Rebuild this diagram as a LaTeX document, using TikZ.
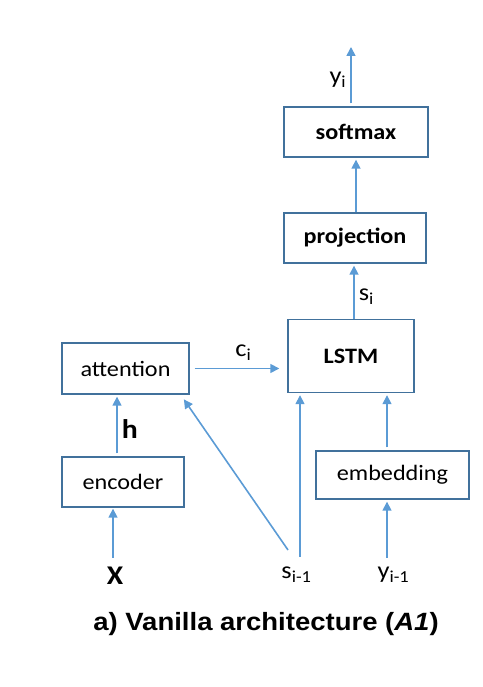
\documentclass[tikz,border=0pt]{standalone}
\usepackage{fontspec}
\setmainfont{Carlito}[FakeStretch=1.1]
\newfontfamily\capfont{Liberation Sans}[FakeStretch=1.1]
\usepackage{xcolor}
\usetikzlibrary{arrows.meta}
\definecolor{boxblue}{RGB}{65,113,156}
\definecolor{lineblue}{RGB}{91,155,213}
\tikzset{
  block/.style={draw=boxblue,line width=1.4pt,fill=white,inner sep=0pt,
    font=\fontsize{22}{26}\selectfont},
  flow/.style={lineblue,line width=1.6pt,-{Triangle[length=9pt,width=9pt]},
    shorten <=3pt,shorten >=2pt},
  lbl/.style={inner sep=0pt,text=black,font=\fontsize{24}{28}\selectfont}
}

\begin{document}
\begin{tikzpicture}[x=1pt,y=1pt]
\useasboundingbox (0,0) rectangle (482,687);
% boxes
\node[block,minimum width=127,minimum height=51] (att) at (125.5,318.5) {attention};
\node[block,minimum width=122,minimum height=50] (enc) at (123,205) {encoder};
\node[block,minimum width=126,minimum height=73,font=\fontsize{22}{26}\selectfont\bfseries] (lstm) at (351,331) {LSTM};
\node[block,minimum width=153,minimum height=48] (emb) at (392.5,212) {embedding};
\node[block,minimum width=142,minimum height=50,font=\fontsize{22}{26}\selectfont\bfseries] (proj) at (355,449) {projection};
\node[block,minimum width=144,minimum height=50,font=\fontsize{22}{26}\selectfont\bfseries] (soft) at (356,555) {softmax};
% inputs and output
\node[lbl,anchor=base,font=\fontsize{27}{30}\selectfont\bfseries] (x) at (115,102) {X};
\node[lbl,anchor=base] (sprev) at (296.5,108) {s\textsubscript{i-1}};
\node[lbl,anchor=base] (yprev) at (393.5,108) {y\textsubscript{i-1}};
\coordinate (out) at (351,640);
% connectors
\draw[flow,shorten <=0pt,shorten >=1pt] ([xshift=-2pt,yshift=27pt]x.base) -- ([xshift=-2pt]x.base |- enc.south);
\draw[flow] ([xshift=-6pt]enc.north) -- ([xshift=-6pt]enc.north |- att.south)
  node[lbl,pos=0.45,right=4pt,font=\fontsize{27}{30}\selectfont\bfseries] (h) {h};
\draw[flow,shorten <=5pt,shorten >=8pt] (att.east) -- (att.east -| lstm.west)
  node[lbl,pos=0.55,above=7pt] (c) {c\textsubscript{i}};
\draw[flow,shorten <=0pt] ([xshift=-8.5pt,yshift=29pt]sprev.base) -- ([xshift=-7pt,yshift=-3pt]att.south east);
\draw[flow,shorten <=0pt] ([xshift=3.5pt,yshift=22pt]sprev.base) -- ([xshift=3.5pt]sprev.base |- lstm.south);
\draw[flow,shorten <=0pt] ([xshift=-6.5pt,yshift=21pt]yprev.base) -- ([xshift=-6.5pt]yprev.base |- emb.south);
\draw[flow] ([xshift=-5.5pt]emb.north) -- ([xshift=-5.5pt]emb.north |- lstm.south);
\draw[flow,shorten <=0pt] ([xshift=3pt]lstm.north) -- ([xshift=3pt]lstm.north |- proj.south)
  node[lbl,pos=0.4,right=4pt] (s) {s\textsubscript{i}};
\draw[flow,shorten <=0pt] ([xshift=1pt]proj.north) -- ([xshift=1pt]proj.north |- soft.south);
\draw[flow,shorten >=0pt] ([xshift=-5pt]soft.north) -- (out)
  node[lbl,pos=0.45,left=4pt] (y) {y\textsubscript{i}};
% caption
\node[font=\capfont\bfseries\fontsize{25}{29}\selectfont] (cap) at (266,63) {a) Vanilla architecture (\textit{A1})};
\end{tikzpicture}
\end{document}
